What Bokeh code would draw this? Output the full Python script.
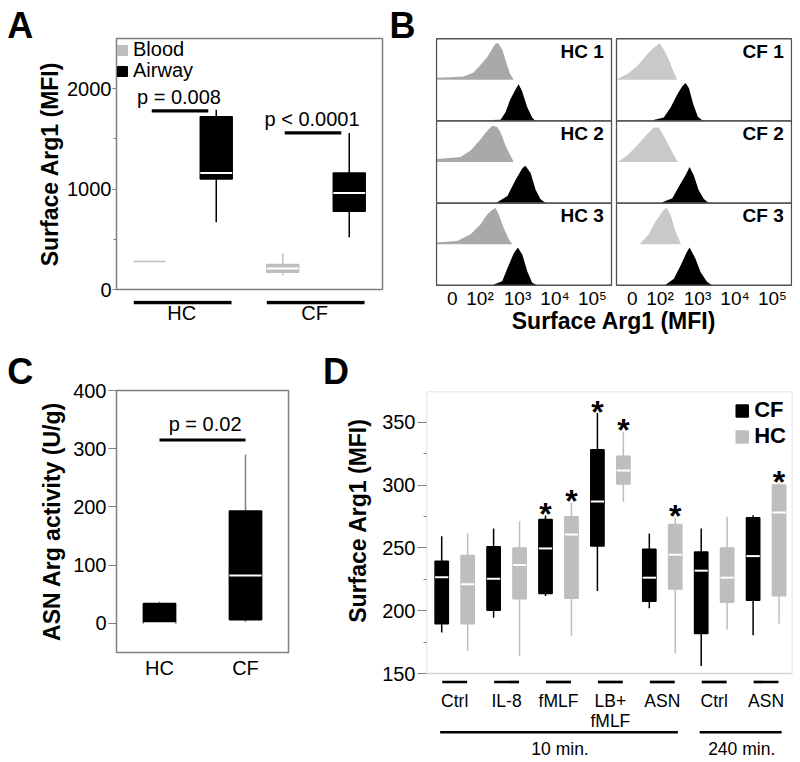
import math
from bokeh.plotting import figure
from bokeh.layouts import row, column
from bokeh.models import FixedTicker, Legend, LegendItem, Range1d, BoxAnnotation
from bokeh.embed import file_html
from bokeh.resources import INLINE
from bokeh.core.properties import value

FONT = "Liberation Sans"
FRAME = "#7f7f7f"
LIGHT = "#bebebe"

# ---------------- Panel A data ----------------
a_groups = ["HC", "CF"]
a_series = ["Blood", "Airway"]
a_blood_lo = [279, 140]
a_blood_q1 = [279, 172]
a_blood_med = [279, 209]
a_blood_q3 = [279, 249]
a_blood_hi = [279, 359]
a_air_lo = [670, 520]
a_air_q1 = [1100, 780]
a_air_med = [1160, 960]
a_air_q3 = [1720, 1160]
a_air_hi = [1790, 1560]
a_pvals = ["p = 0.008", "p < 0.0001"]
a_p_y = [1780, 1560]
a_ticks = [0, 1000, 2000]
a_minor = [500, 1500]

# ---------------- Panel B data (display scale: decades) ----------------
b_samples = ["HC 1", "HC 2", "HC 3", "CF 1", "CF 2", "CF 3"]
b_tick_pos = [1.26, 2, 3, 4, 5]
b_tick_labels = ["0", "10\u00b2", "10\u00b3", "10\u2074", "10\u2075"]
hc1_gray_x = [0.84, 1.2, 1.56, 1.83, 2.01, 2.2, 2.33, 2.42, 2.5, 2.6, 2.7, 2.8, 2.9]
hc1_gray_h = [0.05, 0.06, 0.08, 0.18, 0.36, 0.56, 0.76, 0.89, 0.88, 0.72, 0.42, 0.15, 0.0]
hc1_black_x = [2.33, 2.55, 2.68, 2.81, 2.95, 3.03, 3.12, 3.26, 3.39, 3.48]
hc1_black_h = [0.02, 0.03, 0.21, 0.53, 0.77, 0.89, 0.73, 0.33, 0.08, 0.0]
hc2_gray_x = [0.84, 1.48, 1.75, 2.01, 2.19, 2.33, 2.46, 2.55, 2.68, 2.81, 2.9]
hc2_gray_h = [0.07, 0.12, 0.28, 0.55, 0.76, 0.88, 0.85, 0.72, 0.40, 0.16, 0.0]
hc2_black_x = [2.46, 2.73, 2.95, 3.13, 3.21, 3.35, 3.48, 3.61, 3.75]
hc2_black_h = [0.02, 0.17, 0.57, 0.85, 0.91, 0.73, 0.33, 0.10, 0.0]
hc3_gray_x = [0.84, 1.39, 1.75, 2.01, 2.19, 2.33, 2.41, 2.5, 2.63, 2.77, 2.86]
hc3_gray_h = [0.04, 0.08, 0.24, 0.48, 0.72, 0.84, 0.88, 0.72, 0.40, 0.12, 0.0]
hc3_black_x = [2.37, 2.59, 2.77, 2.9, 3.01, 3.13, 3.26, 3.39, 3.53]
hc3_black_h = [0.02, 0.10, 0.50, 0.78, 0.92, 0.74, 0.34, 0.06, 0.0]
cf1_gray_x = [0.86, 1.13, 1.39, 1.66, 1.83, 1.99, 2.1, 2.23, 2.37, 2.46]
cf1_gray_h = [0.02, 0.14, 0.33, 0.62, 0.78, 0.89, 0.74, 0.50, 0.18, 0.0]
cf1_black_x = [1.83, 2.1, 2.28, 2.46, 2.59, 2.68, 2.77, 2.89, 3.01, 3.15]
cf1_black_h = [0.02, 0.08, 0.32, 0.64, 0.84, 0.92, 0.80, 0.40, 0.10, 0.0]
cf2_gray_x = [0.9, 1.13, 1.39, 1.66, 1.83, 1.97, 2.1, 2.28, 2.46, 2.5]
cf2_gray_h = [0.02, 0.16, 0.40, 0.68, 0.84, 0.84, 0.64, 0.32, 0.02, 0.0]
cf2_black_x = [2.06, 2.33, 2.5, 2.68, 2.79, 2.9, 3.03, 3.17, 3.3]
cf2_black_h = [0.02, 0.12, 0.40, 0.68, 0.88, 0.68, 0.32, 0.10, 0.0]
cf3_gray_x = [1.48, 1.7, 1.88, 2.06, 2.17, 2.28, 2.41, 2.55]
cf3_gray_h = [0.02, 0.24, 0.55, 0.79, 0.89, 0.72, 0.32, 0.02]
cf3_black_x = [2.15, 2.37, 2.55, 2.71, 2.79, 2.95, 3.08, 3.26, 3.39]
cf3_black_h = [0.01, 0.16, 0.48, 0.80, 0.92, 0.64, 0.32, 0.08, 0.0]

# ---------------- Panel C data ----------------
c_groups = ["HC", "CF"]
c_lo = [0, 2]
c_q1 = [0, 6]
c_med = [0, 82]
c_q3 = [34, 193]
c_hi = [37, 290]
c_ptext = ["p = 0.02"]
c_p_y = [315]
c_ticks = [0, 100, 200, 300, 400]

# ---------------- Panel D data ----------------
d_labels = ["Ctrl", "IL-8", "fMLF", "LB+\nfMLF", "ASN", "Ctrl", "ASN"]
d_series = ["CF", "HC"]
cf_lo = [182.6, 194.5, 211.7, 215.7, 202.0, 156.0, 180.5]
cf_q1 = [189.7, 200.3, 213.8, 251.5, 207.5, 181.8, 208.3]
cf_med = [226.6, 225.5, 249.6, 287.0, 226.3, 231.9, 243.5]
cf_q3 = [239.5, 251.0, 272.6, 328.3, 249.0, 246.7, 274.0]
cf_hi = [259.4, 265.5, 275.8, 357.4, 261.5, 265.5, 276.0]
hc_lo = [168.0, 164.0, 180.0, 286.7, 165.9, 185.0, 189.7]
hc_q1 = [189.7, 209.6, 210.0, 301.0, 217.3, 206.7, 212.0]
hc_med = [221.0, 236.4, 260.7, 311.6, 244.6, 226.3, 278.2]
hc_q3 = [244.0, 250.0, 274.8, 323.0, 268.7, 250.0, 300.2]
hc_hi = [261.5, 271.3, 285.9, 342.8, 274.5, 274.8, 301.3]
cf_sig = [0, 0, 1, 1, 0, 0, 0]
hc_sig = [0, 0, 1, 1, 1, 0, 1]
d_times = ["10 min.", "240 min."]
d_time_first = [0, 5]
d_time_last = [4, 6]
d_ticks = [150, 200, 250, 300, 350]
d_minor = [175, 225, 275, 325]
d_ylabel = "Surface Arg1 (MFI)"

panel_letters = ["A", "B", "C", "D"]


def base_fig(**kw):
    p = figure(output_backend="svg", toolbar_location=None, **kw)
    p.grid.visible = False
    return p


def strip_fig(width, height, x_range=None, left=0, right=0):
    xr = x_range if x_range is not None else Range1d(0, width)
    p = base_fig(width=width, height=height, x_range=xr, y_range=Range1d(height, 0),
                 min_border_left=left, min_border_right=right, min_border_top=0,
                 min_border_bottom=0)
    p.axis.visible = False
    p.outline_line_color = None
    return p


def style_y(ax, ticks, minor, tick_out, standoff, label, als):
    ax.ticker = FixedTicker(ticks=ticks, minor_ticks=minor)
    ax.axis_line_color = None
    ax.major_tick_in = 0
    ax.major_tick_out = tick_out
    ax.minor_tick_in = 0
    ax.minor_tick_out = 3
    ax.major_tick_line_color = FRAME
    ax.minor_tick_line_color = FRAME
    ax.major_label_text_font = FONT
    ax.major_label_text_font_size = "20px"
    ax.major_label_text_color = "black"
    ax.major_label_standoff = standoff
    if label:
        ax.axis_label = label
        ax.axis_label_text_font = FONT
        ax.axis_label_text_font_size = "23px"
        ax.axis_label_text_font_style = "bold"
        ax.axis_label_text_color = "black"
        ax.axis_label_standoff = als


def draw_boxes(p, x, lo, q1, med, q3, hi, width, fill, wcolor, wwidth=1.5):
    p.segment(x0=x, y0=lo, x1=x, y1=hi, line_color=wcolor, line_width=wwidth)
    r = p.vbar(x=x, width=width, bottom=q1, top=q3, fill_color=fill,
               line_color=fill, line_width=1.5)
    mx = [xi for xi, a, b in zip(x, q1, q3) if b > a]
    my = [m for m, a, b in zip(med, q1, q3) if b > a]
    h = width / 2
    p.segment(x0=[xi - h for xi in mx], y0=my, x1=[xi + h for xi in mx], y1=my,
              line_color="white", line_width=2)
    return r


def txt(p, x, y, text, size, bold=False, align="center", angle=0.0):
    p.text(x=x, y=y, text=text, text_font=value(FONT), text_font_size=size,
           text_font_style="bold" if bold else "normal", text_align=align,
           text_baseline="middle", text_color="black", angle=angle)


def legend(items, location, size, bold=False, glyph=12, margin=0, padding=5):
    return Legend(items=items, location=location, margin=margin, padding=padding, spacing=0,
                  glyph_width=glyph, glyph_height=glyph, label_standoff=5,
                  label_text_font=FONT, label_text_font_size=size,
                  label_text_font_style="bold" if bold else "normal",
                  label_text_color="black",
                  border_line_color=None, background_fill_alpha=0)


# ======================= Panel A =======================
letA = strip_fig(34, 336)
txt(letA, [6.7], [25.3], panel_letters[0:1], "36px", bold=True, align="left")

na = len(a_groups)
xa_blood = [i - 0.25 for i in range(na)]
xa_air = [i + 0.25 for i in range(na)]
pA = base_fig(width=354, height=300, x_range=Range1d(-0.5, 1.5), y_range=Range1d(0, 2500),
              min_border_left=78, min_border_right=6, min_border_top=38, min_border_bottom=11)
pA.outline_line_color = FRAME
pA.outline_line_width = 1.5
pA.xaxis.visible = False
style_y(pA.yaxis[0], a_ticks, a_minor, 4, 1, "Surface Arg1 (MFI)", 1)
r_blood = draw_boxes(pA, xa_blood, a_blood_lo, a_blood_q1, a_blood_med, a_blood_q3, a_blood_hi,
                     0.24, LIGHT, LIGHT)
r_air = draw_boxes(pA, xa_air, a_air_lo, a_air_q1, a_air_med, a_air_q3, a_air_hi,
                   0.24, "black", "black")
pA.segment(x0=[i - 0.235 for i in range(na)], x1=[i + 0.19 for i in range(na)],
           y0=a_p_y, y1=a_p_y, line_color="black", line_width=3.3)
a_upp = 2500 / 251.0  # data units per pixel
txt(pA, [i - 0.03 for i in range(na)], [y + 14 * a_upp for y in a_p_y], a_pvals, "20px")
# two one-item legends so that the rows sit 20 px apart as in the original
pA.add_layout(legend([LegendItem(label=a_series[0], renderers=[r_blood])], "top_left", "20px"))
pA.add_layout(legend([LegendItem(label=a_series[1], renderers=[r_air])], (0, 207), "20px"))

pAs = strip_fig(354, 36, x_range=pA.x_range, left=78, right=6)
pAs.segment(x0=[i - 0.37 for i in range(na)], x1=[i + 0.365 for i in range(na)],
            y0=[2] * na, y1=[2] * na, line_color="black", line_width=3.3)
txt(pAs, [i - 0.01 for i in range(na)], [12.5] * na, a_groups, "20px")

# ======================= Panel B =======================
letB = strip_fig(47, 336)
txt(letB, [1.0], [24.7], panel_letters[1:2], "36px", bold=True, align="left")

P_LO, P_HI, R_OFF = 0.84, 5.507, 4.8
pB = base_fig(width=365, height=336, x_range=Range1d(P_LO - 0.027, P_HI + R_OFF + 0.027),
              y_range=Range1d(-0.03, 6.03), min_border_left=0, min_border_right=8,
              min_border_top=37, min_border_bottom=46)
pB.outline_line_color = None
pB.yaxis.visible = False
all_ticks = b_tick_pos + [t + R_OFF for t in b_tick_pos]
all_labels = b_tick_labels + b_tick_labels
axB = pB.xaxis[0]
axB.ticker = FixedTicker(ticks=all_ticks, minor_ticks=[])
axB.major_label_overrides = {t: l for t, l in zip(all_ticks, all_labels)}
axB.axis_line_color = None
axB.major_tick_out = 0
axB.major_tick_in = 0
axB.major_label_text_font = FONT
axB.major_label_text_font_size = "19px"
axB.major_label_text_color = "black"
axB.major_label_standoff = 1
axB.axis_label = "Surface Arg1 (MFI)"
axB.axis_label_text_font = FONT
axB.axis_label_text_font_size = "23px"
axB.axis_label_text_font_style = "bold"
axB.axis_label_text_color = "black"
axB.axis_label_standoff = -4

gray_x = [hc1_gray_x, hc2_gray_x, hc3_gray_x, cf1_gray_x, cf2_gray_x, cf3_gray_x]
gray_h = [hc1_gray_h, hc2_gray_h, hc3_gray_h, cf1_gray_h, cf2_gray_h, cf3_gray_h]
black_x = [hc1_black_x, hc2_black_x, hc3_black_x, cf1_black_x, cf2_black_x, cf3_black_x]
black_h = [hc1_black_h, hc2_black_h, hc3_black_h, cf1_black_h, cf2_black_h, cf3_black_h]
lab_x, lab_y = [], []
for k in range(6):
    col = k // 3
    rowi = k % 3
    off = R_OFF * col
    base = 2 * (2 - rowi)
    gcol = "#a9a9a9" if col == 0 else "#c9c9c9"
    gx = [v + off for v in gray_x[k]]
    pB.varea(x=gx, y1=base + 1, y2=[base + 1 + h for h in gray_h[k]], fill_color=gcol)
    bx = [v + off for v in black_x[k]]
    pB.varea(x=bx, y1=base, y2=[base + h for h in black_h[k]], fill_color="black")
    lab_x.append(5.3 + off)
    lab_y.append(base + 2 - 0.31)
pB.quad(left=[P_LO] * 3 + [P_LO + R_OFF] * 3, right=[P_HI] * 3 + [P_HI + R_OFF] * 3,
        bottom=[4, 2, 0] * 2, top=[6, 4, 2] * 2, fill_color=None, line_color="#505050",
        line_width=1.3)
txt(pB, lab_x, lab_y, b_samples, "19px", bold=True, align="right")

# ======================= Panel C =======================
letC = strip_fig(36, 426)
txt(letC, [6.7], [35.0], panel_letters[2:3], "36px", bold=True, align="left")

nc = len(c_groups)
pC = base_fig(width=284, height=426, x_range=Range1d(-0.5, 1.5), y_range=Range1d(-50.3, 400),
              min_border_left=76, min_border_right=32, min_border_top=54, min_border_bottom=110)
pC.outline_line_color = FRAME
pC.outline_line_width = 1.5
style_y(pC.yaxis[0], c_ticks, [], 8, 2, "ASN Arg activity (U/g)", 5)
axC = pC.xaxis[0]
axC.ticker = FixedTicker(ticks=list(range(nc)), minor_ticks=[])
axC.major_label_overrides = {i: g for i, g in enumerate(c_groups)}
axC.axis_line_color = None
axC.major_tick_out = 0
axC.major_tick_in = 0
axC.major_label_text_font = FONT
axC.major_label_text_font_size = "20px"
axC.major_label_text_color = "black"
axC.major_label_standoff = 4
draw_boxes(pC, list(range(nc)), c_lo, c_q1, c_med, c_q3, c_hi, 0.375, "black", "#808080")
pC.segment(x0=[0], x1=[nc - 1], y0=c_p_y, y1=c_p_y, line_color="black", line_width=3)
c_upp = 450.3 / 262.0
txt(pC, [(nc - 1) / 2 + 0.03], [y + 15.5 * c_upp for y in c_p_y], c_ptext, "20px")

# ======================= Panel D =======================
letD = strip_fig(480, 55)
txt(letD, [2.4], [34.8], panel_letters[3:4], "36px", bold=True, align="left")

ylabD = strip_fig(52, 371)
txt(ylabD, [37], [129], [d_ylabel], "23px", bold=True, angle=math.pi / 2)

nd = len(d_labels)
x_cf = [i - 0.25 for i in range(nd)]
x_hc = [i + 0.25 for i in range(nd)]
D_TOP = 374.6
d_ppu = (673 - 391) / (D_TOP - 150)        # pixels per data unit
D_BOT = 150 - 13 / d_ppu                   # extra room below the box frame
pD = base_fig(width=428, height=295, x_range=Range1d(-0.543, 6.509), y_range=Range1d(D_BOT, D_TOP),
              min_border_left=54, min_border_right=8, min_border_top=0, min_border_bottom=0)
pD.outline_line_color = None
pD.xaxis.visible = False
style_y(pD.yaxis[0], d_ticks, d_minor, 9, 2, None, 0)
pD.add_layout(BoxAnnotation(left=-0.543, right=6.509, bottom=150, top=D_TOP, fill_alpha=0,
                            line_color=FRAME, line_width=1.5))
r_cf = draw_boxes(pD, x_cf, cf_lo, cf_q1, cf_med, cf_q3, cf_hi, 0.256, "black", "black")
r_hc = draw_boxes(pD, x_hc, hc_lo, hc_q1, hc_med, hc_q3, hc_hi, 0.256, LIGHT, LIGHT)
sx = [x for x, s in zip(x_cf, cf_sig) if s] + [x for x, s in zip(x_hc, hc_sig) if s]
sy = [y for y, s in zip(cf_hi, cf_sig) if s] + [y for y, s in zip(hc_hi, hc_sig) if s]
txt(pD, sx, [y + 1.5 / d_ppu for y in sy], ["*"] * len(sx), "32px", bold=True)
bar_y = 150 - 8.5 / d_ppu
pD.segment(x0=[i - 0.24 for i in range(nd)], x1=[i + 0.24 for i in range(nd)],
           y0=[bar_y] * nd, y1=[bar_y] * nd, line_color="black", line_width=2.7)
pD.add_layout(legend([LegendItem(label=d_series[0], renderers=[r_cf]),
                      LegendItem(label=d_series[1], renderers=[r_hc])],
                     "top_right", "22px", bold=True, glyph=15, margin=6, padding=3))

pDs = strip_fig(428, 76, x_range=pD.x_range, left=54, right=8)
line1 = [l.split("\n")[0] for l in d_labels]
txt(pDs, list(range(nd)), [14.7] * nd, line1, "17.5px")
l2x = [i for i, l in enumerate(d_labels) if "\n" in l]
l2t = [l.split("\n")[1] for l in d_labels if "\n" in l]
txt(pDs, l2x, [34.5] * len(l2x), l2t, "17.5px")
nt = len(d_times)
pDs.segment(x0=[f - 0.28 for f in d_time_first], x1=[l + 0.3 for l in d_time_last],
            y0=[45.7] * nt, y1=[45.7] * nt, line_color="black", line_width=2.5)
txt(pDs, [(f + l) / 2 + 0.03 for f, l in zip(d_time_first, d_time_last)], [62.3] * nt,
    d_times, "17.5px")

top = row(column(letA), column(pA, pAs), column(letB), column(pB))
bottom = row(column(letC), column(pC),
             column(letD, row(column(ylabD), column(pD, pDs))))
layout = column(top, bottom)
open("out.html", "w").write(file_html(layout, INLINE, title="Surface Arg1"))
